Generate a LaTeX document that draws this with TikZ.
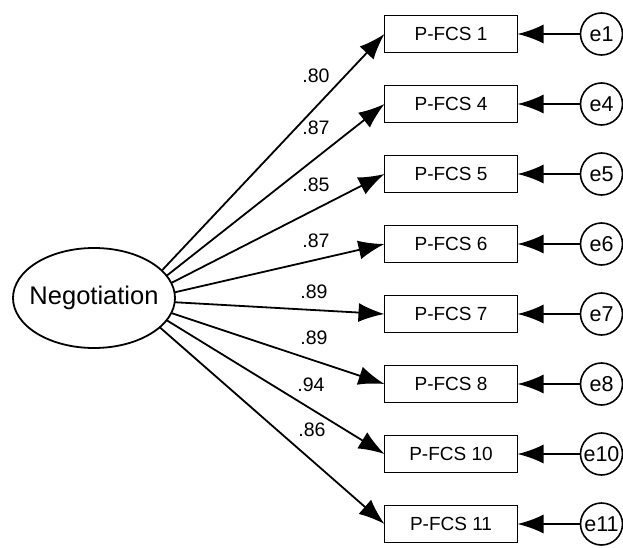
\documentclass[tikz,border=0pt]{standalone}
\usepackage{fontspec}
\setmainfont{Liberation Sans}
\usetikzlibrary{positioning,arrows.meta,shapes.geometric}

\begin{document}
\begin{tikzpicture}[x=1pt, y=-1pt,
    item/.style={draw, line width=1.8pt, outer sep=0pt, minimum width=133pt, minimum height=37pt, inner sep=0pt, font=\fontsize{19}{20}\selectfont},
    err/.style={draw, circle, line width=1.6pt, outer sep=0pt, minimum size=42pt, inner sep=0pt, font=\fontsize{21.5}{22}\selectfont},
    load/.style={-{Latex[length=26pt,width=19pt]}, line width=1.8pt},
    wt/.style={font=\fontsize{19.5}{20}\selectfont},
  ]
  \useasboundingbox (0,0) rectangle (623,548);
  \node [draw, ellipse, line width=1.8pt, outer sep=0pt, minimum width=162pt, minimum height=100pt, inner sep=0pt,
    label={[font=\fontsize{25.5}{26}\selectfont, name=negtext]center:Negotiation}] (neg) at (94,298) {};
  % indicators
  \node [item] (pfcs1) at (451,34) {P-FCS 1};
  \node [item, below=33pt of pfcs1] (pfcs4) {P-FCS 4};
  \node [item, below=33pt of pfcs4] (pfcs5) {P-FCS 5};
  \node [item, below=33pt of pfcs5] (pfcs6) {P-FCS 6};
  \node [item, below=33pt of pfcs6] (pfcs7) {P-FCS 7};
  \node [item, below=33pt of pfcs7] (pfcs8) {P-FCS 8};
  \node [item, below=33pt of pfcs8] (pfcs10) {P-FCS 10};
  \node [item, below=33pt of pfcs10] (pfcs11) {P-FCS 11};
  % error terms
  \node [err, right=63pt of pfcs1] (e1) {e1};
  \node [err, right=63pt of pfcs4] (e4) {e4};
  \node [err, right=63pt of pfcs5] (e5) {e5};
  \node [err, right=63pt of pfcs6] (e6) {e6};
  \node [err, right=63pt of pfcs7] (e7) {e7};
  \node [err, right=63pt of pfcs8] (e8) {e8};
  \node [err, right=63pt of pfcs10] (e10) {e10};
  \node [err, right=63pt of pfcs11] (e11) {e11};
  % loadings
  \draw [load] (neg.22) -- (pfcs1.west);
  \draw [load] (neg.17) -- (pfcs4.west);
  \draw [load] (neg.11) -- (pfcs5.west);
  \draw [load] (neg.4) -- (pfcs6.west);
  \draw [load] (neg.-3) -- (pfcs7.west);
  \draw [load] (neg.-11) -- (pfcs8.west);
  \draw [load] (neg.-17) -- (pfcs10.west);
  \draw [load] (neg.-24) -- (pfcs11.west);
  \draw [load] (e1.west) -- (pfcs1.east);
  \draw [load] (e4.west) -- (pfcs4.east);
  \draw [load] (e5.west) -- (pfcs5.east);
  \draw [load] (e6.west) -- (pfcs6.east);
  \draw [load] (e7.west) -- (pfcs7.east);
  \draw [load] (e8.west) -- (pfcs8.east);
  \draw [load] (e10.west) -- (pfcs10.east);
  \draw [load] (e11.west) -- (pfcs11.east);
  \node [wt] (w1) at (316,76) {.80};
  \node [wt] (w4) at (316,128) {.87};
  \node [wt] (w5) at (316,185) {.85};
  \node [wt] (w6) at (316,241) {.87};
  \node [wt] (w7) at (314,292) {.89};
  \node [wt] (w8) at (314,338) {.89};
  \node [wt] (w10) at (311,385) {.94};
  \node [wt] (w11) at (312,430) {.86};
\end{tikzpicture}
\end{document}
